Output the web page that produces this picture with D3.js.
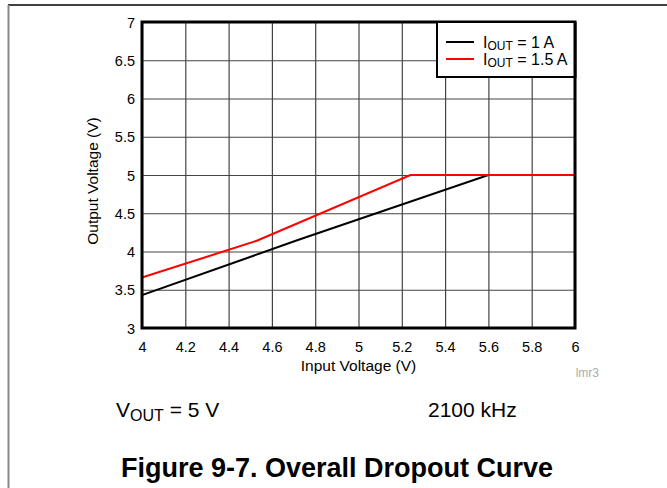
<!DOCTYPE html>
<html><head><meta charset="utf-8">
<script src="https://cdn.jsdelivr.net/npm/d3@7"></script>
<style>body{margin:0;background:#fff}svg{display:block;font-family:"Liberation Sans",Arial,sans-serif}</style>
</head><body><svg id="c" width="667" height="488"></svg>
<script>
const xTicks = [4, 4.2, 4.4, 4.6, 4.8, 5, 5.2, 5.4, 5.6, 5.8, 6];
const yTicks = [3, 3.5, 4, 4.5, 5, 5.5, 6, 6.5, 7];
const xTickLabels = ["4","4.2","4.4","4.6","4.8","5","5.2","5.4","5.6","5.8","6"];
const yTickLabels = ["3","3.5","4","4.5","5","5.5","6","6.5","7"];
const vin1A = [4.0, 4.72, 5.6, 6.0];
const vout1A = [3.43, 4.15, 5.0, 5.0];
const vin15A = [4.0, 4.53, 5.24, 6.0];
const vout15A = [3.66, 4.14, 5.0, 5.0];
const seriesNames = ["1 A", "1.5 A"];
const seriesColors = ["#000000", "#ff0000"];

const FF = "Liberation Sans, Arial, sans-serif";
const svg = d3.select("#c");
const L = 142, R = 575, T = 22, B = 328;
const x = d3.scaleLinear().domain([4, 6]).range([L, R]);
const y = d3.scaleLinear().domain([3, 7]).range([B, T]);

// page frame
svg.append("line").attr("x1", 8).attr("x2", 667).attr("y1", 5).attr("y2", 5).attr("stroke", "#000").attr("stroke-width", 1.5);
svg.append("line").attr("x1", 8.5).attr("x2", 8.5).attr("y1", 5).attr("y2", 488).attr("stroke", "#888").attr("stroke-width", 2);

// grid + ticks
const gx = svg.append("g").attr("transform", `translate(0,${B})`)
  .call(d3.axisBottom(x).tickValues(xTicks).tickSize(-(B - T)).tickFormat((d, i) => xTickLabels[i]));
gx.select(".domain").remove();
gx.selectAll(".tick line").attr("stroke", "#444").attr("stroke-width", 1.2);
gx.selectAll(".tick text").attr("font-size", 14.5).attr("fill", "#000").attr("y", 24).attr("dy", 0).attr("font-family", FF);

const gy = svg.append("g").attr("transform", `translate(${L},0)`)
  .call(d3.axisLeft(y).tickValues(yTicks).tickSize(-(R - L)).tickFormat((d, i) => yTickLabels[i]));
gy.select(".domain").remove();
gy.selectAll(".tick line").attr("stroke", "#444").attr("stroke-width", 1.2);
gy.selectAll(".tick text").attr("font-size", 14.5).attr("fill", "#000").attr("x", -7).attr("dy", "0.36em").attr("font-family", FF);

// lines
const line = d3.line().x(d => x(d[0])).y(d => y(d[1]));
const s1 = vin1A.map((v, i) => [v, vout1A[i]]);
const s2 = vin15A.map((v, i) => [v, vout15A[i]]);
svg.append("path").datum(s1).attr("d", line).attr("fill", "none").attr("stroke", seriesColors[0]).attr("stroke-width", 2);
svg.append("path").datum(s2).attr("d", line).attr("fill", "none").attr("stroke", seriesColors[1]).attr("stroke-width", 2);

// border
svg.append("rect").attr("x", L).attr("y", T).attr("width", R - L).attr("height", B - T)
  .attr("fill", "none").attr("stroke", "#000").attr("stroke-width", 3);

// legend
const lg = svg.append("g");
lg.append("rect").attr("x", 437).attr("y", T).attr("width", R - 437).attr("height", 55)
  .attr("fill", "#fff").attr("stroke", "#000").attr("stroke-width", 2);
seriesNames.forEach((n, i) => {
  const yy = 42 + i * 17;
  lg.append("line").attr("x1", 446).attr("x2", 474).attr("y1", yy).attr("y2", yy).attr("stroke", seriesColors[i]).attr("stroke-width", 2);
  const t = lg.append("text").attr("x", 483).attr("y", yy + 6).attr("font-size", 16).attr("fill", "#000");
  t.append("tspan").text("I");
  t.append("tspan").text("OUT").attr("font-size", 12).attr("dy", 2);
  t.append("tspan").text(" = " + n).attr("dy", -2);
});
svg.append("rect").attr("x", R - 1.5).attr("y", T).attr("width", 3).attr("height", 56).attr("fill", "#000");

// axis titles
svg.append("text").attr("x", (L + R) / 2).attr("y", 371).attr("text-anchor", "middle").attr("font-size", 15.5).text("Input Voltage (V)");
svg.append("text").attr("transform", `translate(98,181) rotate(-90)`).attr("text-anchor", "middle").attr("font-size", 15.5).text("Output Voltage (V)");
svg.append("text").attr("x", 599).attr("y", 377).attr("text-anchor", "end").attr("font-size", 12).attr("fill", "#aaa").text("lmr3");

// conditions
const c1 = svg.append("text").attr("x", 116).attr("y", 417).attr("font-size", 21);
c1.append("tspan").text("V");
c1.append("tspan").text("OUT").attr("font-size", 16).attr("dy", 4);
c1.append("tspan").text(" = 5 V").attr("dy", -4);
svg.append("text").attr("x", 428).attr("y", 417).attr("font-size", 21).text("2100 kHz");

svg.append("text").attr("x", 337).attr("y", 477).attr("text-anchor", "middle").attr("font-size", 27).attr("font-weight", "bold").text("Figure 9-7. Overall Dropout Curve");
</script></body></html>
